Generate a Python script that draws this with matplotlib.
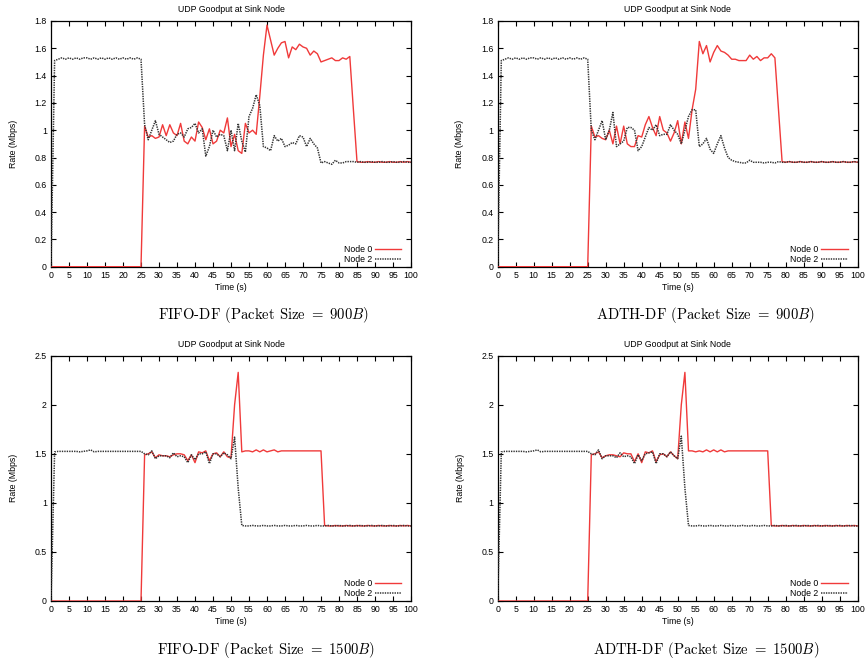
import matplotlib
matplotlib.use("Agg")
import matplotlib.pyplot as plt
from matplotlib.ticker import FuncFormatter, MultipleLocator

plt.rcParams["mathtext.fontset"] = "cm"
plt.rcParams["font.family"] = ["Liberation Sans", "DejaVu Sans"]

# Time axis (seconds)
time_s = list(range(0, 101))

# FIFO-DF, packet size 900 B
fifo900_node0 = [
    0, 0, 0, 0, 0, 0, 0, 0, 0, 0,
    0, 0, 0, 0, 0, 0, 0, 0, 0, 0,
    0, 0, 0, 0, 0, 0, 1.03, 0.95, 0.96, 0.94,
    0.95, 1.04, 0.96, 1.04, 0.98, 0.96, 1.05, 0.92, 0.90, 0.95,
    0.92, 1.06, 1.02, 0.93, 1.01, 0.90, 0.92, 1.00, 0.98, 1.09,
    0.88, 0.97, 0.85, 0.83, 1.05, 0.98, 1.00, 0.97, 1.25, 1.55,
    1.77, 1.66, 1.55, 1.60, 1.64, 1.65, 1.53, 1.61, 1.59, 1.63,
    1.61, 1.60, 1.55, 1.58, 1.56, 1.50, 1.51, 1.52, 1.53, 1.51,
    1.51, 1.53, 1.52, 1.54, 1.15, 0.77, 0.765, 0.765, 0.77, 0.765,
    0.765, 0.77, 0.765, 0.765, 0.77, 0.765, 0.765, 0.77, 0.765, 0.77,
    0.765,
]
fifo900_node2 = [
    0, 1.51, 1.52, 1.53, 1.52, 1.53, 1.52, 1.53, 1.52, 1.53,
    1.53, 1.52, 1.53, 1.52, 1.53, 1.52, 1.53, 1.52, 1.53, 1.52,
    1.53, 1.52, 1.53, 1.52, 1.53, 1.52, 1.04, 0.93, 1.00, 1.07,
    0.97, 0.95, 0.93, 0.91, 0.92, 0.97, 0.98, 0.95, 1.01, 1.02,
    1.05, 0.98, 1.01, 0.81, 0.88, 1.00, 0.95, 0.97, 0.96, 0.85,
    1.00, 0.85, 1.05, 0.92, 0.84, 1.10, 1.16, 1.26, 1.18, 0.88,
    0.87, 0.85, 0.96, 0.92, 0.94, 0.88, 0.89, 0.91, 0.90, 0.96,
    0.95, 0.88, 0.94, 0.90, 0.87, 0.76, 0.77, 0.76, 0.75, 0.78,
    0.76, 0.76, 0.77, 0.77, 0.77, 0.765, 0.77, 0.765, 0.765, 0.77,
    0.765, 0.765, 0.77, 0.765, 0.765, 0.77, 0.765, 0.765, 0.77, 0.765,
    0.765,
]

# ADTH-DF, packet size 900 B
adth900_node0 = [
    0, 0, 0, 0, 0, 0, 0, 0, 0, 0,
    0, 0, 0, 0, 0, 0, 0, 0, 0, 0,
    0, 0, 0, 0, 0, 0, 1.03, 0.95, 0.96, 0.94,
    0.93, 1.00, 0.90, 1.03, 0.90, 1.03, 0.90, 0.88, 0.88, 0.96,
    0.95, 1.04, 1.10, 1.02, 0.96, 1.10, 1.00, 0.98, 0.92, 0.98,
    1.07, 0.90, 1.06, 0.94, 1.15, 1.30, 1.65, 1.56, 1.62, 1.50,
    1.57, 1.62, 1.58, 1.57, 1.55, 1.52, 1.52, 1.51, 1.51, 1.51,
    1.55, 1.52, 1.54, 1.51, 1.53, 1.53, 1.56, 1.53, 1.15, 0.77,
    0.765, 0.77, 0.765, 0.765, 0.77, 0.765, 0.765, 0.77, 0.765, 0.765,
    0.77, 0.765, 0.765, 0.77, 0.765, 0.765, 0.77, 0.765, 0.765, 0.77,
    0.765,
]
adth900_node2 = [
    0, 1.51, 1.52, 1.53, 1.52, 1.53, 1.52, 1.53, 1.52, 1.53,
    1.53, 1.52, 1.53, 1.52, 1.53, 1.52, 1.53, 1.52, 1.53, 1.52,
    1.53, 1.52, 1.53, 1.52, 1.53, 1.52, 1.00, 0.93, 1.00, 1.07,
    0.93, 1.00, 1.13, 0.88, 0.90, 0.92, 1.02, 1.02, 1.00, 0.85,
    0.88, 0.95, 1.02, 1.00, 1.04, 0.96, 0.97, 0.97, 1.04, 1.00,
    0.97, 0.90, 1.00, 1.10, 1.15, 1.15, 0.88, 0.90, 0.94, 0.86,
    0.83, 0.90, 0.96, 0.87, 0.80, 0.78, 0.77, 0.765, 0.76, 0.76,
    0.78, 0.765, 0.765, 0.765, 0.76, 0.765, 0.765, 0.76, 0.77, 0.765,
    0.765, 0.77, 0.765, 0.765, 0.77, 0.765, 0.765, 0.77, 0.765, 0.765,
    0.77, 0.765, 0.765, 0.77, 0.765, 0.765, 0.77, 0.765, 0.765, 0.77,
    0.765,
]

# FIFO-DF, packet size 1500 B
fifo1500_node0 = [
    0, 0, 0, 0, 0, 0, 0, 0, 0, 0,
    0, 0, 0, 0, 0, 0, 0, 0, 0, 0,
    0, 0, 0, 0, 0, 0, 1.49, 1.50, 1.52, 1.46,
    1.49, 1.48, 1.48, 1.47, 1.49, 1.50, 1.50, 1.49, 1.43, 1.49,
    1.41, 1.52, 1.51, 1.53, 1.43, 1.50, 1.51, 1.47, 1.52, 1.47,
    1.46, 2.00, 2.33, 1.52, 1.53, 1.53, 1.52, 1.54, 1.52, 1.54,
    1.52, 1.53, 1.54, 1.52, 1.53, 1.53, 1.53, 1.53, 1.53, 1.53,
    1.53, 1.53, 1.53, 1.53, 1.53, 1.53, 0.77, 0.765, 0.765, 0.77,
    0.765, 0.765, 0.77, 0.765, 0.765, 0.77, 0.765, 0.765, 0.77, 0.765,
    0.765, 0.77, 0.765, 0.765, 0.77, 0.765, 0.765, 0.77, 0.765, 0.77,
    0.765,
]
fifo1500_node2 = [
    0, 1.52, 1.525, 1.525, 1.525, 1.525, 1.525, 1.525, 1.52, 1.525,
    1.53, 1.54, 1.52, 1.525, 1.525, 1.525, 1.525, 1.525, 1.525, 1.525,
    1.525, 1.525, 1.525, 1.525, 1.525, 1.525, 1.50, 1.49, 1.53, 1.45,
    1.48, 1.48, 1.48, 1.46, 1.51, 1.47, 1.48, 1.47, 1.41, 1.49,
    1.44, 1.50, 1.50, 1.52, 1.40, 1.50, 1.50, 1.47, 1.51, 1.49,
    1.45, 1.67, 1.15, 0.77, 0.765, 0.765, 0.77, 0.765, 0.765, 0.77,
    0.765, 0.765, 0.77, 0.765, 0.765, 0.77, 0.765, 0.765, 0.77, 0.765,
    0.765, 0.77, 0.765, 0.765, 0.77, 0.765, 0.765, 0.77, 0.765, 0.765,
    0.77, 0.765, 0.765, 0.77, 0.765, 0.765, 0.77, 0.765, 0.765, 0.77,
    0.765, 0.765, 0.77, 0.765, 0.765, 0.77, 0.765, 0.765, 0.77, 0.765,
    0.765,
]

# ADTH-DF, packet size 1500 B
adth1500_node0 = [
    0, 0, 0, 0, 0, 0, 0, 0, 0, 0,
    0, 0, 0, 0, 0, 0, 0, 0, 0, 0,
    0, 0, 0, 0, 0, 0, 1.49, 1.50, 1.52, 1.46,
    1.48, 1.49, 1.49, 1.48, 1.47, 1.51, 1.50, 1.50, 1.42, 1.50,
    1.41, 1.52, 1.51, 1.53, 1.42, 1.49, 1.50, 1.47, 1.52, 1.48,
    1.45, 2.00, 2.33, 1.53, 1.53, 1.52, 1.53, 1.52, 1.54, 1.52,
    1.54, 1.52, 1.54, 1.52, 1.53, 1.53, 1.53, 1.53, 1.53, 1.53,
    1.53, 1.53, 1.53, 1.53, 1.53, 1.53, 0.77, 0.765, 0.765, 0.77,
    0.765, 0.765, 0.77, 0.765, 0.765, 0.77, 0.765, 0.765, 0.77, 0.765,
    0.765, 0.77, 0.765, 0.765, 0.77, 0.765, 0.765, 0.77, 0.765, 0.77,
    0.765,
]
adth1500_node2 = [
    0, 1.52, 1.525, 1.525, 1.525, 1.525, 1.525, 1.525, 1.52, 1.525,
    1.53, 1.54, 1.52, 1.525, 1.525, 1.525, 1.525, 1.525, 1.525, 1.525,
    1.525, 1.525, 1.525, 1.525, 1.525, 1.525, 1.50, 1.49, 1.54, 1.45,
    1.48, 1.48, 1.48, 1.46, 1.51, 1.47, 1.48, 1.47, 1.40, 1.49,
    1.43, 1.50, 1.51, 1.52, 1.40, 1.50, 1.50, 1.47, 1.52, 1.48,
    1.45, 1.68, 1.15, 0.77, 0.765, 0.765, 0.77, 0.765, 0.765, 0.77,
    0.765, 0.765, 0.77, 0.765, 0.765, 0.77, 0.765, 0.765, 0.77, 0.765,
    0.765, 0.77, 0.765, 0.765, 0.77, 0.765, 0.765, 0.77, 0.765, 0.765,
    0.77, 0.765, 0.765, 0.77, 0.765, 0.765, 0.77, 0.765, 0.765, 0.77,
    0.765, 0.765, 0.77, 0.765, 0.765, 0.77, 0.765, 0.765, 0.77, 0.765,
    0.765,
]

series_labels = ["Node 0", "Node 2"]
panel_title = "UDP Goodput at Sink Node"
captions = [
    r"FIFO-DF (Packet Size $=\;900B$)",
    r"ADTH-DF (Packet Size $=\;900B$)",
    r"FIFO-DF (Packet Size $=\;1500B$)",
    r"ADTH-DF (Packet Size $=\;1500B$)",
]

panels = [
    (fifo900_node0, fifo900_node2, 1.8, 0.2),
    (adth900_node0, adth900_node2, 1.8, 0.2),
    (fifo1500_node0, fifo1500_node2, 2.5, 0.5),
    (adth1500_node0, adth1500_node2, 2.5, 0.5),
]

W, H = 865, 665
fig = plt.figure(figsize=(W / 100, H / 100), dpi=100)

# axes boxes in pixel coordinates: left, top, right, bottom
boxes = [
    (51, 21, 411, 266.7),
    (497.7, 21, 857.7, 266.7),
    (51, 355.7, 411, 601),
    (497.7, 355.7, 857.7, 601),
]
caption_pos = [(263, 315), (705, 315), (266, 650), (706, 650)]

fmt = FuncFormatter(lambda v, p: "%g" % round(v, 3))
fs = 6.3

for (n0, n2, ymax, ystep), (l, t, r, b), cap, (cx, cy) in zip(panels, boxes, captions, caption_pos):
    ax = fig.add_axes([l / W, 1 - b / H, (r - l) / W, (b - t) / H])
    ax.plot(time_s, n0, color="#f03a3a", lw=1.0, label=series_labels[0], zorder=3)
    ax.plot(time_s, n2, color="#333333", lw=1.1, linestyle=(0, (0.9, 0.7)),
            label=series_labels[1], zorder=4)
    ax.set_xlim(0, 100)
    ax.set_ylim(0, ymax)
    ax.xaxis.set_major_locator(MultipleLocator(5))
    ax.yaxis.set_major_locator(MultipleLocator(ystep))
    ax.yaxis.set_major_formatter(fmt)
    ax.xaxis.set_major_formatter(fmt)
    ax.tick_params(direction="in", top=True, right=True, length=3.5, width=0.8,
                   labelsize=fs, pad=3)
    for s in ax.spines.values():
        s.set_linewidth(0.9)
    ax.set_title(panel_title, fontsize=fs, pad=6.5)
    ax.set_xlabel("Time (s)", fontsize=fs, labelpad=2)
    ax.set_ylabel("Rate (Mbps)", fontsize=fs, labelpad=12)
    ax.legend(loc="lower right", bbox_to_anchor=(0.972, 0.012), markerfirst=False,
              frameon=False, fontsize=fs, handlelength=3.0, handletextpad=0.3,
              borderpad=0, borderaxespad=0, labelspacing=0.1)
    fig.text(cx / W, 1 - cy / H, cap, fontsize=10.6, family="cmr10",
             ha="center", va="center")

fig.savefig("out.png", dpi=100)
